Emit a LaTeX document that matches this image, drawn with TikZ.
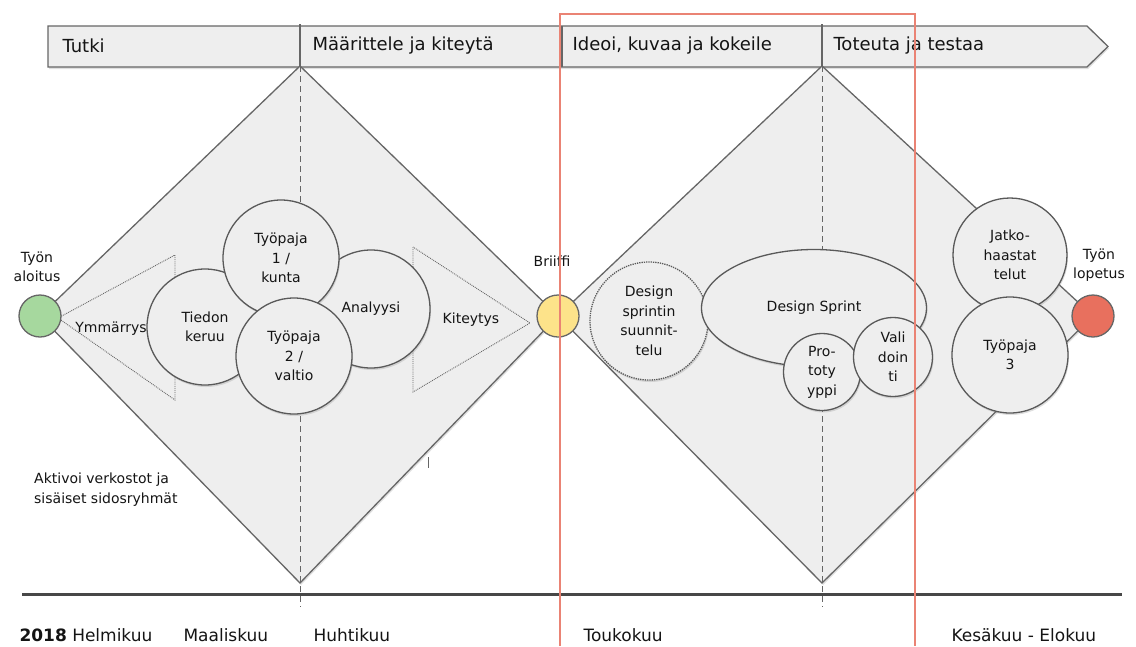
\documentclass[tikz,border=0pt]{standalone}
\usepackage{fontspec}
\setmainfont{DejaVu Sans}
\usetikzlibrary{shadows, positioning, shapes.geometric}

\definecolor{panel}{HTML}{EEEEEE}
\definecolor{edge}{HTML}{666666}
\definecolor{startgreen}{HTML}{A6D89E}
\definecolor{briefyellow}{HTML}{FDE38A}
\definecolor{endred}{HTML}{E8705E}
\definecolor{frame}{HTML}{EA8374}

\begin{document}
\begin{tikzpicture}[x=1pt,y=-1pt,
      every node/.style={font=\fontsize{14}{19.5}\selectfont, text=black!92},
      phase/.style={draw=edge, fill=panel, line width=1.3pt},
      softshadow/.style={drop shadow={shadow xshift=1pt, shadow yshift=-2pt, opacity=.25}},
      idea/.style={circle, draw=black!65, fill=panel, line width=1.3pt, inner sep=0pt, align=center, softshadow},
      milestone/.style={circle, draw=edge, line width=1.3pt, minimum size=42pt, inner sep=0pt},
      hint/.style={draw=black!60, densely dotted, line width=0.9pt, fill=panel},
      stage/.style={anchor=west, font=\fontsize{18}{20}\selectfont},
      month/.style={anchor=base west, font=\fontsize{17}{20}\selectfont}]
  \useasboundingbox (0,0) rectangle (1136,646);

  \filldraw[phase, softshadow] (48,26) -- (1087,26) -- (1108,46.5) -- (1087,67) -- (48,67) -- cycle;
  \draw[edge, line width=1.3pt] (300,24) -- (300,67) (562,26) -- (562,67) (822,24) -- (822,67);
  \node[stage] (tutki) at (59,46) {Tutki};
  \node[stage] (maar) at (309,46) {Määrittele ja kiteytä};
  \node[stage] (ideoi) at (569,46) {Ideoi, kuvaa ja kokeile};
  \node[stage] (toteuta) at (830,46) {Toteuta ja testaa};

  \coordinate (s) at (40,316);
  \coordinate (b) at (558,316);
  \coordinate (e) at (1093,316);
  \coordinate (top1) at (300,66);
  \coordinate (bot1) at (300,583);
  \coordinate (top2) at (822,66);
  \coordinate (bot2) at (822,583);
  \coordinate (low1) at (300,607);
  \coordinate (low2) at (822,607);
  \coordinate (axl) at (22,594);
  \coordinate (axr) at (1122,594);

  \filldraw[phase, softshadow] (s) -- (top1) -- (b) -- (bot1) -- cycle;
  \filldraw[phase, softshadow] (b) -- (top2) -- (e) -- (bot2) -- cycle;
  \draw[line width=3pt, black!72] (axl) -- (axr);
  \draw[edge, line width=1pt, dash pattern=on 6pt off 4pt] (top1) -- (low1) (top2) -- (low2);
  \draw[black!60, line width=1pt] (428,457) -- (428,468);

  \filldraw[hint] (58,318) -- (175,255) -- (175,400) -- cycle;
  \node (ymm) at (111,329) {Ymmärrys};
  \filldraw[hint] (413,247) -- (413,392) -- (530,323) -- cycle;
  \node (kit) at (471,320) {Kiteytys};

  \node[milestone, fill=startgreen] (start) at (s) {};
  \node[milestone, fill=briefyellow] (brief) at (b) {};
  \node[milestone, fill=endred] (end) at (e) {};
  \node[align=center, above=9pt of start, xshift=-3pt] (startlabel) {Työn\\aloitus};
  \node[above=24pt of brief, xshift=-6pt] (brieflabel) {Briiffi};
  \node[align=center, above=9pt of end, xshift=6pt] (endlabel) {Työn\\lopetus};

  \node[idea, minimum size=116pt] (tiedon) at (205,327) {Tiedon\\keruu};
  \node[idea, minimum size=118pt] (analyysi) at (371,309) {Analyysi};
  \node[idea, minimum size=116pt] (tp1) at (281,258) {Työpaja\\1 /\\kunta};
  \node[idea, minimum size=116pt] (tp2) at (294,356) {Työpaja\\2 /\\valtio};

  \node[idea, densely dotted, minimum size=118pt] (plan) at (649,321) {Design\\sprintin\\suunnit-\\telu};
  \node[idea, ellipse, minimum width=225pt, minimum height=117pt] (sprint) at (814,308) {Design Sprint};
  \node[idea, minimum size=77pt] (proto) at (822,372) {Pro-\\toty\\yppi};
  \node[idea, minimum size=79pt] (valid) at (893,357) {Vali\\doin\\ti};
  \node[idea, minimum size=114pt] (jatko) at (1010,255) {Jatko-\\haastat\\telut};
  \node[idea, minimum size=116pt] (tp3) at (1010,355) {Työpaja\\3};

  \node[align=left, anchor=north west, inner sep=0pt] (aktivoi) at (34,473) {Aktivoi verkostot ja\\sisäiset sidosryhmät};

  \node[month] (feb) at (16,641) {\textbf{2018} Helmikuu};
  \node[month] (mar) at (180,641) {Maaliskuu};
  \node[month] (apr) at (310,641) {Huhtikuu};
  \node[month] (may) at (580,641) {Toukokuu};
  \node[month] (jun) at (948,641) {Kesäkuu - Elokuu};

  \draw[frame, line width=1.6pt] (560,646) -- (560,14) -- (915,14) -- (915,646);
\end{tikzpicture}
\end{document}
